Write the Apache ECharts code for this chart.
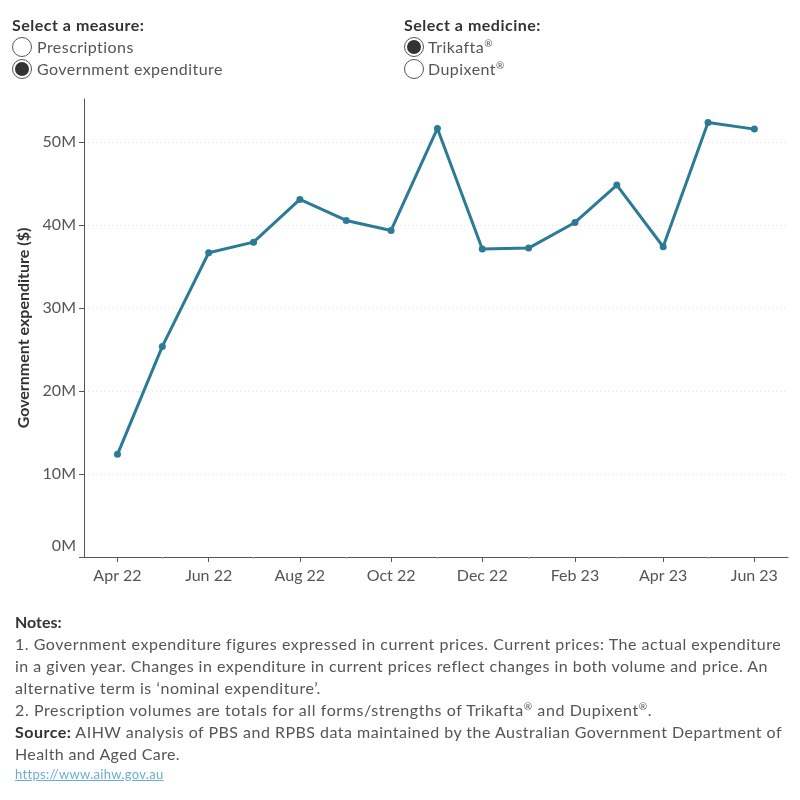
<!DOCTYPE html>
<html><head><meta charset="utf-8">
<script src="https://cdn.jsdelivr.net/npm/echarts@6/dist/echarts.min.js"></script>
<style>
html,body{margin:0;padding:0;background:#fff;}
#chart{position:absolute;left:0;top:0;width:800px;height:800px;}
.t{position:absolute;font-family:Lato,sans-serif;white-space:nowrap;color:#555;font-size:16px;line-height:22px;letter-spacing:0.45px;}
.h{font-weight:bold;color:#333;letter-spacing:0.5px;}
.r{position:absolute;width:20px;height:20px;border:1px solid #555;border-radius:50%;background:#fff;box-sizing:border-box;}
.r.on::after{content:'';position:absolute;left:2px;top:2px;width:14px;height:14px;border-radius:50%;background:#333;}
.notes{position:absolute;left:15px;top:611px;font-family:Lato,sans-serif;font-size:16px;line-height:22px;color:#555;white-space:nowrap;}
.notes div{height:22px;}
.notes b{color:#333;}
.url{position:absolute;left:15px;top:765px;font-family:Lato,sans-serif;font-size:13px;line-height:18px;color:#6aaed6;text-decoration:underline;white-space:nowrap;letter-spacing:0.3px;}
</style></head><body>
<div id="chart"></div>
<div class="t h" style="left:12px;top:14px;">Select a measure:</div>
<div class="r" style="left:12px;top:37px;"></div>
<div class="t" style="left:37px;top:36px;">Prescriptions</div>
<div class="r on" style="left:12px;top:59px;"></div>
<div class="t" style="left:37px;top:58px;">Government expenditure</div>
<div class="t h" style="left:404px;top:14px;">Select a medicine:</div>
<div class="r on" style="left:404px;top:37px;"></div>
<div class="t" style="left:428px;top:36px;">Trikafta<sup style="font-size:10px;line-height:0">®</sup></div>
<div class="r" style="left:404px;top:59px;"></div>
<div class="t" style="left:428px;top:58px;">Dupixent<sup style="font-size:10px;line-height:0">®</sup></div>
<div class="notes">
<div><b>Notes:</b></div>
<div data-w="766">1. Government expenditure figures expressed in current prices. Current prices: The actual expenditure</div>
<div data-w="753">in a given year. Changes in expenditure in current prices reflect changes in both volume and price. An</div>
<div data-w="306">alternative term is ‘nominal expenditure’.</div>
<div data-w="637">2. Prescription volumes are totals for all forms/strengths of Trikafta<sup style="font-size:10px;line-height:0">®</sup> and Dupixent<sup style="font-size:10px;line-height:0">®</sup>.</div>
<div data-w="767"><b>Source:</b> AIHW analysis of PBS and RPBS data maintained by the Australian Government Department of</div>
<div data-w="165">Health and Aged Care.</div>
</div>
<div class="url">https://www.aihw.gov.au</div>
<script>
// ---- data ----
const months = ['2022-04','2022-05','2022-06','2022-07','2022-08','2022-09','2022-10','2022-11','2022-12','2023-01','2023-02','2023-03','2023-04','2023-05','2023-06'];
const expenditureM = [12.37, 25.38, 36.67, 37.95, 43.09, 40.56, 39.36, 51.65, 37.11, 37.23, 40.32, 44.82, 37.39, 52.37, 51.57];
const majorTickMonths = ['2022-04','2022-06','2022-08','2022-10','2022-12','2023-02','2023-04','2023-06'];
const minorTickMonths = ['2022-05','2022-07','2022-09','2022-11','2023-01','2023-03','2023-05'];
const yTicks = [0, 10, 20, 30, 40, 50];
const monthNames = ['Jan','Feb','Mar','Apr','May','Jun','Jul','Aug','Sep','Oct','Nov','Dec'];

// fit note lines to the widths measured on the reference via letter-spacing
document.querySelectorAll('.notes div[data-w]').forEach(el => {
  const target = +el.dataset.w;
  el.style.display = 'inline-block';
  const w = el.getBoundingClientRect().width;
  const n = el.textContent.length;
  el.style.letterSpacing = ((target - w) / n).toFixed(3) + 'px';
  el.style.display = 'block';
});

const DAY = 86400000;
const toTs = s => { const p = s.split('-').map(Number); return new Date(p[0], p[1]-1, 1).getTime(); };
const xMin = toTs(months[0]) - 22.4*DAY;
const xMax = toTs(months[months.length-1]) + 22.5*DAY;
const FONT = 'Lato';
const lineColor = '#2b7b95';

const chart = echarts.init(document.getElementById('chart'));
chart.setOption({
  animation: false,
  grid: {left: 84, right: 12, top: 99, bottom: 243},
  xAxis: [{
    type: 'value', min: xMin, max: xMax,
    axisLine: {show: true, lineStyle: {color: '#555', width: 1}},
    axisTick: {show: true, customValues: majorTickMonths.map(toTs), length: 5, lineStyle: {color: '#555'}},
    axisLabel: {customValues: majorTickMonths.map(toTs), color: '#555', fontSize: 16, fontFamily: FONT, margin: 11,
      formatter: v => { const d = new Date(v); return monthNames[d.getMonth()] + ' ' + String(d.getFullYear()).slice(2); }},
    splitLine: {show: false}
  }, {
    type: 'value', min: xMin, max: xMax, position: 'bottom',
    axisLine: {show: false},
    axisTick: {show: true, customValues: minorTickMonths.map(toTs), length: 2, lineStyle: {color: '#aaa'}},
    axisLabel: {show: false},
    splitLine: {show: false}
  }],
  yAxis: {
    type: 'value', min: 0, max: 55.2,
    name: 'Government expenditure ($)', nameLocation: 'middle', nameGap: 51,
    nameTextStyle: {color: '#333', fontSize: 16, fontFamily: FONT, fontWeight: 'bold'},
    axisLine: {show: true, lineStyle: {color: '#555', width: 1}},
    axisTick: {show: true, customValues: yTicks, length: 5, lineStyle: {color: '#555'}},
    axisLabel: {customValues: yTicks, color: '#555', fontSize: 16, fontFamily: FONT, margin: 8, lineHeight: 22,
      formatter: v => v === 0 ? '0M\n ' : v + 'M'},
    splitLine: {show: true, lineStyle: {color: '#e3e3e3', type: [1, 3], width: 1}}
  },
  series: [{
    type: 'line',
    data: months.map((m, i) => [toTs(m), expenditureM[i]]),
    symbol: 'circle', symbolSize: 7,
    lineStyle: {width: 3, color: lineColor},
    itemStyle: {color: lineColor},
    xAxisIndex: 0
  }]
});
</script>
</body></html>
